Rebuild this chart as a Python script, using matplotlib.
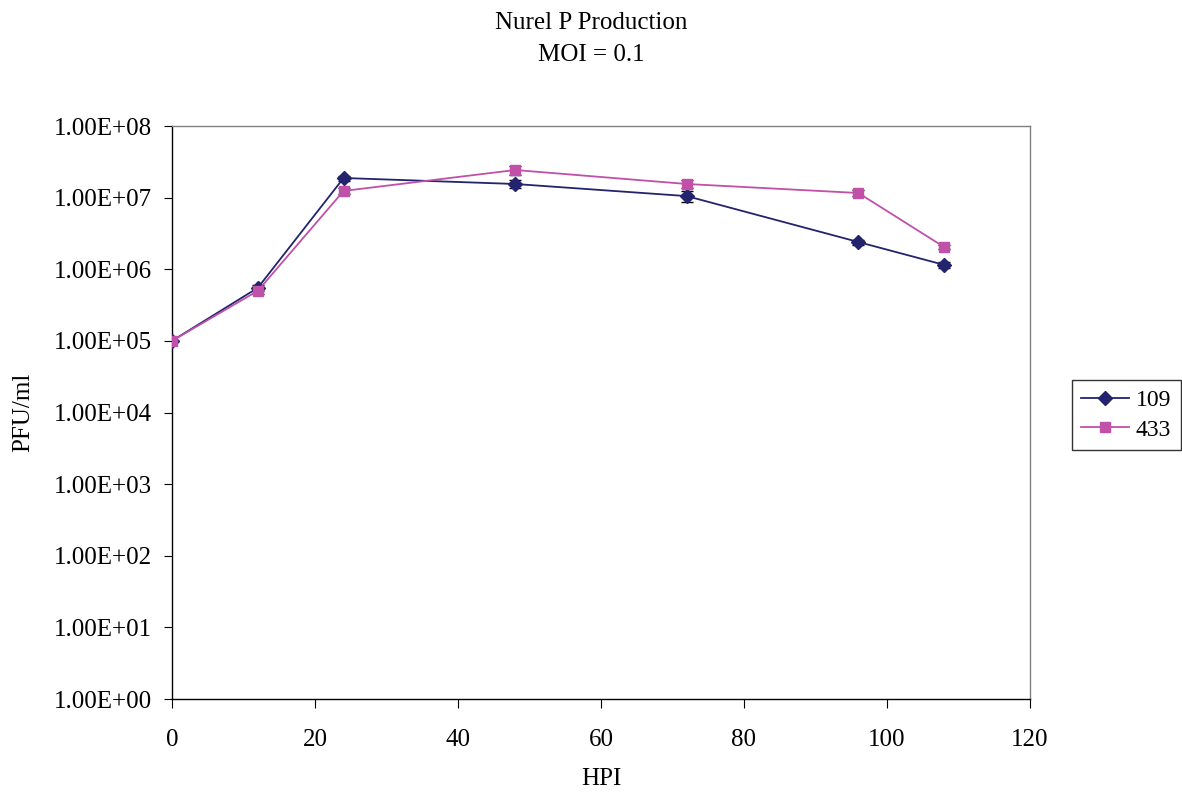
import numpy as np
import matplotlib
matplotlib.use("Agg")
from matplotlib import pyplot as plt
from matplotlib.ticker import FixedLocator, FuncFormatter

# Data
hpi = [0, 12, 24, 48, 72, 96, 108]
pfu_109 = [1.0e5, 5.5e5, 1.88e7, 1.55e7, 1.05e7, 2.4e6, 1.15e6]
err_109 = [0, 0.6e5, 1.5e6, 2.0e6, 1.8e6, 2.0e5, 1.0e5]
pfu_433 = [1.0e5, 5.0e5, 1.24e7, 2.43e7, 1.55e7, 1.16e7, 2.04e6]
err_433 = [0, 0.5e5, 1.2e6, 3.5e6, 2.0e6, 1.0e6, 1.5e5]

plt.rcParams["font.family"] = ["Liberation Serif", "DejaVu Serif"]

fig = plt.figure(figsize=(11.82, 7.94), dpi=100)
ax = fig.add_axes([172 / 1182, 1 - 699 / 794, (1030 - 172) / 1182, (699 - 126) / 794])

ax.errorbar(hpi, pfu_109, yerr=err_109, fmt="none", ecolor="black", elinewidth=1, capsize=4, zorder=2)
ax.errorbar(hpi, pfu_433, yerr=err_433, fmt="none", ecolor="black", elinewidth=1, capsize=4, zorder=2)
ax.plot(hpi, pfu_109, color="#23236e", marker="D", markersize=7, linewidth=1.3, label="109", zorder=3)
ax.plot(hpi, pfu_433, color="#c050a8", marker="s", markersize=7, linewidth=1.3, label="433", zorder=3)

ax.set_yscale("log")
ax.set_ylim(1, 1e8)
ax.set_xlim(0, 120)
ax.yaxis.set_major_locator(FixedLocator([10.0 ** k for k in range(9)]))
ax.yaxis.set_minor_locator(FixedLocator([]))
ax.yaxis.set_major_formatter(FuncFormatter(lambda v, p: "%.2E" % v))
ax.set_xticks(range(0, 121, 20))

for s in ax.spines.values():
    s.set_color("#808080")
    s.set_linewidth(1)
ax.spines["left"].set_color("black")
ax.spines["bottom"].set_color("black")
ax.tick_params(axis="both", labelsize=18, direction="out", length=6, color="black")
ax.tick_params(axis="y", pad=8.5)
ax.tick_params(axis="x", length=6.5, pad=15)

ax.set_xlabel("HPI", fontsize=18, labelpad=12)
ax.set_ylabel("PFU/ml", fontsize=18, labelpad=14)
fig.suptitle("Nurel P Production\nMOI = 0.1", fontsize=18, y=0.985, linespacing=1.6)

leg = ax.legend(loc="center left", bbox_to_anchor=(1072 / 1182, 1 - 415 / 794),
                bbox_transform=fig.transFigure, borderaxespad=0, fontsize=17, frameon=True,
                fancybox=False, edgecolor="black", handlelength=2.0,
                borderpad=0.4, labelspacing=0.35, handletextpad=0.3)
leg.get_frame().set_linewidth(1)

fig.savefig("out.png", dpi=100)
